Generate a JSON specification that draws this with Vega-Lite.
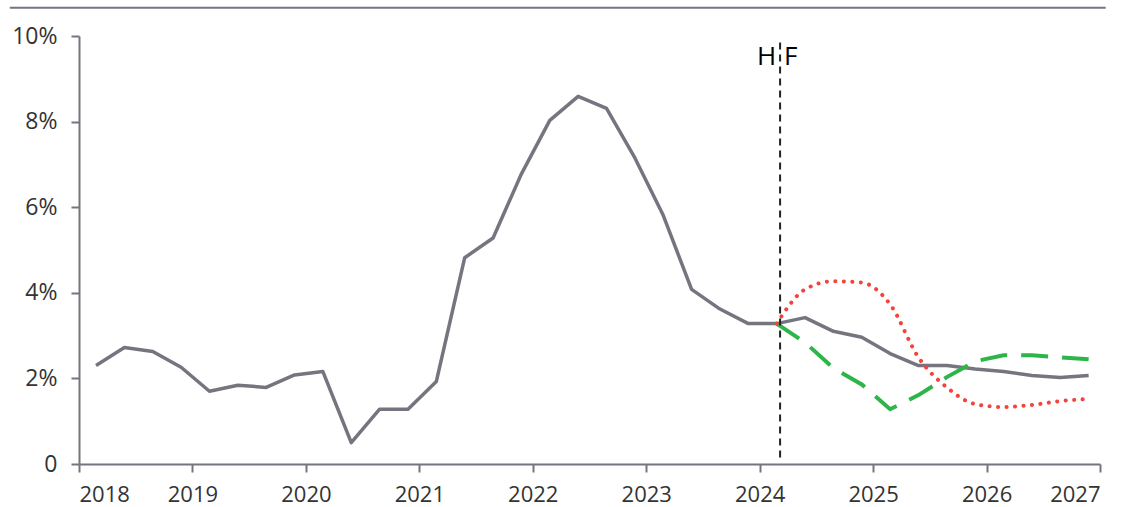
{
  "$schema": "https://vega.github.io/schema/vega-lite/v6.json",
  "width": 1021,
  "height": 428,
  "autosize": "none",
  "padding": {"left": 79, "top": 36, "right": 35, "bottom": 43},
  "background": "white",
  "config": {
    "view": {"stroke": null},
    "font": "Open Sans"
  },
  "datasets": {
    "series": [
      {"t": 2018.15, "v": 2.30, "s": "actual"},
      {"t": 2018.40, "v": 2.72, "s": "actual"},
      {"t": 2018.65, "v": 2.63, "s": "actual"},
      {"t": 2018.90, "v": 2.26, "s": "actual"},
      {"t": 2019.15, "v": 1.70, "s": "actual"},
      {"t": 2019.40, "v": 1.84, "s": "actual"},
      {"t": 2019.65, "v": 1.79, "s": "actual"},
      {"t": 2019.90, "v": 2.08, "s": "actual"},
      {"t": 2020.15, "v": 2.16, "s": "actual"},
      {"t": 2020.40, "v": 0.50, "s": "actual"},
      {"t": 2020.65, "v": 1.28, "s": "actual"},
      {"t": 2020.90, "v": 1.28, "s": "actual"},
      {"t": 2021.15, "v": 1.93, "s": "actual"},
      {"t": 2021.40, "v": 4.82, "s": "actual"},
      {"t": 2021.65, "v": 5.28, "s": "actual"},
      {"t": 2021.90, "v": 6.78, "s": "actual"},
      {"t": 2022.15, "v": 8.03, "s": "actual"},
      {"t": 2022.40, "v": 8.59, "s": "actual"},
      {"t": 2022.65, "v": 8.31, "s": "actual"},
      {"t": 2022.90, "v": 7.15, "s": "actual"},
      {"t": 2023.15, "v": 5.81, "s": "actual"},
      {"t": 2023.40, "v": 4.08, "s": "actual"},
      {"t": 2023.65, "v": 3.62, "s": "actual"},
      {"t": 2023.90, "v": 3.28, "s": "actual"},
      {"t": 2024.15, "v": 3.28, "s": "actual"},
      {"t": 2024.40, "v": 3.42, "s": "actual"},
      {"t": 2024.65, "v": 3.10, "s": "actual"},
      {"t": 2024.90, "v": 2.96, "s": "actual"},
      {"t": 2025.15, "v": 2.58, "s": "actual"},
      {"t": 2025.40, "v": 2.30, "s": "actual"},
      {"t": 2025.65, "v": 2.30, "s": "actual"},
      {"t": 2025.90, "v": 2.22, "s": "actual"},
      {"t": 2026.15, "v": 2.16, "s": "actual"},
      {"t": 2026.40, "v": 2.07, "s": "actual"},
      {"t": 2026.65, "v": 2.02, "s": "actual"},
      {"t": 2026.90, "v": 2.07, "s": "actual"},
      {"t": 2024.15, "v": 3.28, "s": "red"},
      {"t": 2024.40, "v": 4.08, "s": "red"},
      {"t": 2024.65, "v": 4.27, "s": "red"},
      {"t": 2024.90, "v": 4.24, "s": "red"},
      {"t": 2025.15, "v": 3.73, "s": "red"},
      {"t": 2025.40, "v": 2.49, "s": "red"},
      {"t": 2025.65, "v": 1.79, "s": "red"},
      {"t": 2025.90, "v": 1.40, "s": "red"},
      {"t": 2026.15, "v": 1.33, "s": "red"},
      {"t": 2026.40, "v": 1.38, "s": "red"},
      {"t": 2026.65, "v": 1.47, "s": "red"},
      {"t": 2026.90, "v": 1.52, "s": "red"},
      {"t": 2024.15, "v": 3.28, "s": "green"},
      {"t": 2024.40, "v": 2.84, "s": "green"},
      {"t": 2024.65, "v": 2.24, "s": "green"},
      {"t": 2024.90, "v": 1.86, "s": "green"},
      {"t": 2025.15, "v": 1.28, "s": "green"},
      {"t": 2025.40, "v": 1.61, "s": "green"},
      {"t": 2025.65, "v": 2.03, "s": "green"},
      {"t": 2025.90, "v": 2.40, "s": "green"},
      {"t": 2026.15, "v": 2.54, "s": "green"},
      {"t": 2026.40, "v": 2.54, "s": "green"},
      {"t": 2026.65, "v": 2.49, "s": "green"},
      {"t": 2026.90, "v": 2.45, "s": "green"}
    ],
    "divider": [{"t": 2024.18, "y1": 0.15, "y2": 9.85}],
    "hf": [
      {"t": 2024.18, "v": 9.5, "label": "H", "side": "left"},
      {"t": 2024.18, "v": 9.5, "label": "F", "side": "right"}
    ],
    "topline": [{"x1": 2017.39, "x2": 2027.05, "y": 10.66}]
  },
  "layer": [
    {
      "data": {"name": "series"},
      "transform": [{"filter": "datum.s === 'actual'"}],
      "mark": {"type": "line", "color": "#76757f", "strokeWidth": 3.5, "strokeJoin": "round"},
      "encoding": {
        "x": {
          "field": "t", "type": "quantitative",
          "scale": {"domain": [2018, 2027], "nice": false, "zero": false},
          "axis": {
            "values": [2018, 2019, 2020, 2021, 2022, 2023, 2024, 2025, 2026, 2027],
            "format": "d", "title": null, "grid": false,
            "domainColor": "#76757f", "domainWidth": 2,
            "tickColor": "#76757f", "tickWidth": 2, "tickSize": 8,
            "labelFontSize": 22, "labelColor": "#333333", "labelPadding": 12,
            "labelFont": "Open Sans"
          }
        },
        "y": {
          "field": "v", "type": "quantitative",
          "scale": {"domain": [0, 10], "nice": false},
          "axis": {
            "values": [0, 2, 4, 6, 8, 10],
            "labelExpr": "datum.value == 0 ? '0' : datum.value + '%'",
            "title": null, "grid": false,
            "domainColor": "#76757f", "domainWidth": 2,
            "tickColor": "#76757f", "tickWidth": 2, "tickSize": 8,
            "labelFontSize": 23, "labelColor": "#333333", "labelPadding": 14,
            "labelFont": "Open Sans"
          }
        }
      }
    },
    {
      "data": {"name": "series"},
      "transform": [{"filter": "datum.s === 'green'"}],
      "mark": {"type": "line", "color": "#2db54a", "strokeWidth": 4, "strokeDash": [27, 14]},
      "encoding": {
        "x": {"field": "t", "type": "quantitative"},
        "y": {"field": "v", "type": "quantitative"}
      }
    },
    {
      "data": {"name": "series"},
      "transform": [{"filter": "datum.s === 'red'"}],
      "mark": {"type": "line", "color": "#f4433a", "strokeWidth": 4, "strokeDash": [0.1, 8.4], "strokeCap": "round", "interpolate": "monotone"},
      "encoding": {
        "x": {"field": "t", "type": "quantitative"},
        "y": {"field": "v", "type": "quantitative"}
      }
    },
    {
      "data": {"name": "divider"},
      "mark": {"type": "rule", "color": "#222222", "strokeWidth": 2, "strokeDash": [7, 5]},
      "encoding": {
        "x": {"field": "t", "type": "quantitative"},
        "y": {"field": "y1", "type": "quantitative"},
        "y2": {"field": "y2"}
      }
    },
    {
      "data": {"name": "hf"},
      "transform": [{"filter": "datum.side === 'left'"}],
      "mark": {"type": "text", "fontSize": 26, "color": "#000000", "baseline": "middle", "align": "right", "dx": -4, "font": "Open Sans"},
      "encoding": {
        "x": {"field": "t", "type": "quantitative"},
        "y": {"field": "v", "type": "quantitative"},
        "text": {"field": "label"}
      }
    },
    {
      "data": {"name": "hf"},
      "transform": [{"filter": "datum.side === 'right'"}],
      "mark": {"type": "text", "fontSize": 26, "color": "#000000", "baseline": "middle", "align": "left", "dx": 4, "font": "Open Sans"},
      "encoding": {
        "x": {"field": "t", "type": "quantitative"},
        "y": {"field": "v", "type": "quantitative"},
        "text": {"field": "label"}
      }
    },
    {
      "data": {"name": "topline"},
      "mark": {"type": "rule", "color": "#76757f", "strokeWidth": 2, "clip": false},
      "encoding": {
        "x": {"field": "x1", "type": "quantitative"},
        "x2": {"field": "x2"},
        "y": {"field": "y", "type": "quantitative"}
      }
    }
  ]
}
